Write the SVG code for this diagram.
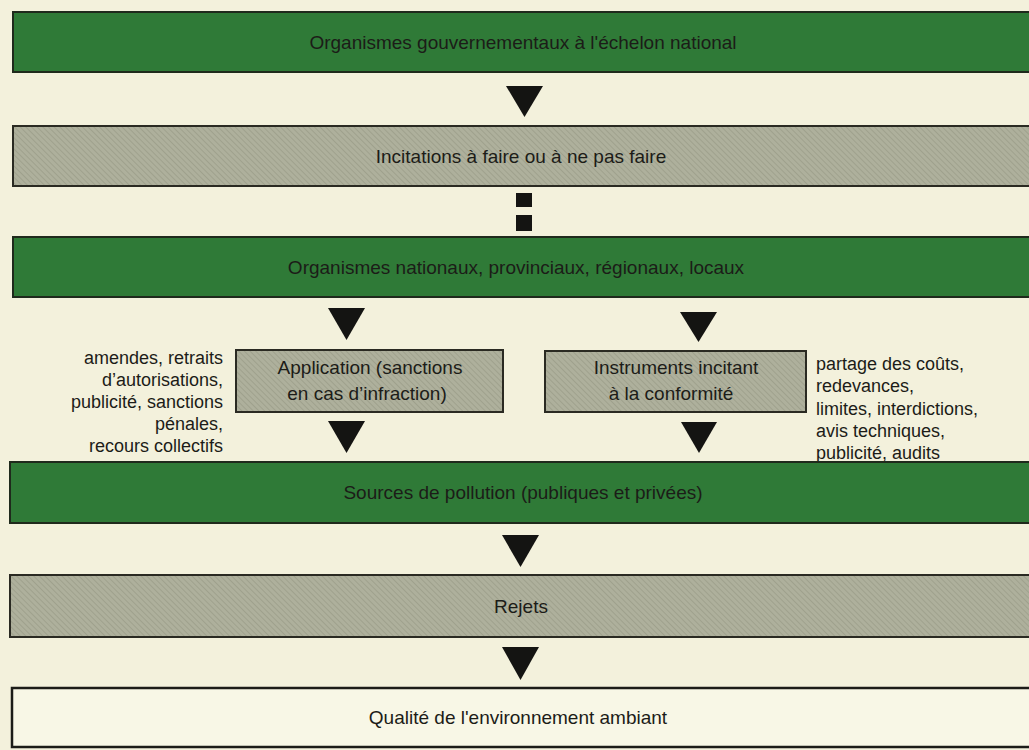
<svg xmlns="http://www.w3.org/2000/svg" width="1029" height="750" viewBox="0 0 1029 750">
  <defs>
    <pattern id="hatch" width="4" height="4" patternUnits="userSpaceOnUse" patternTransform="rotate(-45)">
      <rect width="4" height="4" fill="#aeb09c"/>
      <line x1="0" y1="0" x2="0" y2="4" stroke="#9a9c88" stroke-width="1.5"/>
    </pattern>
    <style>
      .green { fill: #2f7a37; stroke: #1f2a1c; stroke-width: 2; }
      .gray { fill: url(#hatch); stroke: #2a2a22; stroke-width: 2; }
      .white { fill: #f8f7e6; stroke: #1c1c18; stroke-width: 2.5; }
      .lbl { font-family: "Liberation Sans", Arial, sans-serif; font-size: 19px; fill: #1c1c18; text-anchor: middle; }
      .side { font-family: "Liberation Sans", Arial, sans-serif; font-size: 18px; fill: #1c1c18; }
      .arr { fill: #141412; }
    </style>
  </defs>
  <rect width="1029" height="750" fill="#f3f1dc"/>

  <g id="n1">
    <rect class="green" x="13" y="12" width="1030" height="60"/>
    <text class="lbl" x="523" y="49">Organismes gouvernementaux à l'échelon national</text>
  </g>
  <g id="n2">
    <rect class="gray" x="13" y="126" width="1030" height="60"/>
    <text class="lbl" x="521" y="163">Incitations à faire ou à ne pas faire</text>
  </g>
  <g id="n3">
    <rect class="green" x="13" y="237" width="1030" height="60"/>
    <text class="lbl" x="516" y="274">Organismes nationaux, provinciaux, régionaux, locaux</text>
  </g>
  <g id="n4">
    <rect class="gray" x="236" y="350" width="267" height="62"/>
    <text class="lbl" x="370" y="374">Application (sanctions</text>
    <text class="lbl" x="367" y="400">en cas d’infraction)</text>
  </g>
  <g id="n5">
    <rect class="gray" x="545" y="351" width="261" height="61"/>
    <text class="lbl" x="676" y="374">Instruments incitant</text>
    <text class="lbl" x="671" y="400">à la conformité</text>
  </g>
  <g id="side-left">
    <text class="side" text-anchor="end" x="223" y="364">amendes, retraits</text>
    <text class="side" text-anchor="end" x="223" y="386">d’autorisations,</text>
    <text class="side" text-anchor="end" x="223" y="408">publicité, sanctions</text>
    <text class="side" text-anchor="end" x="223" y="430">pénales,</text>
    <text class="side" text-anchor="end" x="223" y="452">recours collectifs</text>
  </g>
  <g id="side-right">
    <text class="side" x="816" y="370">partage des coûts,</text>
    <text class="side" x="816" y="392">redevances,</text>
    <text class="side" x="816" y="415">limites, interdictions,</text>
    <text class="side" x="816" y="437">avis techniques,</text>
    <text class="side" x="816" y="459">publicité, audits</text>
  </g>
  <g id="n6">
    <rect class="green" x="10" y="462" width="1030" height="61"/>
    <text class="lbl" x="523" y="499">Sources de pollution (publiques et privées)</text>
  </g>
  <g id="n7">
    <rect class="gray" x="10" y="575" width="1030" height="62"/>
    <text class="lbl" x="521" y="613">Rejets</text>
  </g>
  <g id="n8">
    <rect class="white" x="12" y="688" width="1030" height="59"/>
    <text class="lbl" x="518" y="724">Qualité de l'environnement ambiant</text>
  </g>

  <g id="connectors">
    <polygon class="arr" points="506,86 543,86 524.5,117"/>
    <rect class="arr" x="516" y="193" width="16" height="14"/>
    <rect class="arr" x="516" y="215" width="16" height="16"/>
    <polygon class="arr" points="328,308 365,308 346.5,340"/>
    <polygon class="arr" points="680,312 717,312 698.5,342"/>
    <polygon class="arr" points="328,421 365,421 346.5,453"/>
    <polygon class="arr" points="681,422 717,422 699,453"/>
    <polygon class="arr" points="502,535 539,535 520.5,567"/>
    <polygon class="arr" points="502,647 539,647 520.5,680"/>
  </g>
</svg>
